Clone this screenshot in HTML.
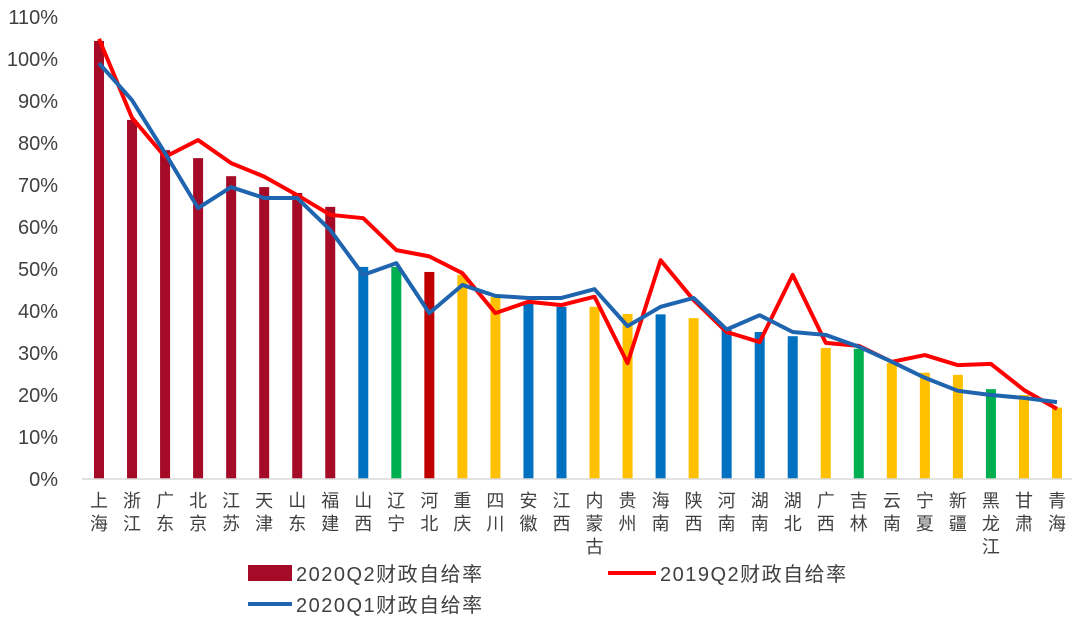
<!DOCTYPE html>
<html><head><meta charset="utf-8"><style>
body{margin:0;background:#fff;}
svg text{font-family:"Liberation Sans","Noto Sans CJK SC",sans-serif;fill:#404040;}
</style></head><body>
<svg id="chart" width="1080" height="621" xmlns="http://www.w3.org/2000/svg">
<g id="yaxis"></g>
<g id="bars"></g>
<g id="lines"></g>
<g id="xaxis"></g>
<g>
<rect x="248" y="565" width="44" height="16" fill="#A50A26"/>
<text x="296" y="581" font-size="20" letter-spacing="1.5">2020Q2财政自给率</text>
<line x1="608" y1="573" x2="656" y2="573" stroke="#FF0000" stroke-width="4"/>
<text x="660" y="581" font-size="20" letter-spacing="1.5">2019Q2财政自给率</text>
<line x1="248" y1="604" x2="292" y2="604" stroke="#1F64AE" stroke-width="4"/>
<text x="296" y="612" font-size="20" letter-spacing="1.5">2020Q1财政自给率</text>
</g>
</svg>
<script>
const categories=["上海","浙江","广东","北京","江苏","天津","山东","福建","山西","辽宁","河北","重庆","四川","安徽","江西","内蒙古","贵州","海南","陕西","河南","湖南","湖北","广西","吉林","云南","宁夏","新疆","黑龙江","甘肃","青海"];
const q2_2020=[104.3,85.5,78.3,76.4,72.1,69.5,68.1,64.8,50.5,50.5,49.3,48.6,43.3,42,41,41,39.3,39.2,38.3,35.5,35,34,31.2,31,27.6,25.3,24.8,21.4,20,17];
const q2_2019=[104.8,86,76.7,80.7,75.2,72,67.6,62.9,62.1,54.5,53,49,39.5,42.2,41.4,43.4,27.6,52.1,42.6,35,32.6,48.6,32.4,31.7,27.9,29.5,27.1,27.4,21.2,16.7];
const q1_2020=[99,90.2,77.6,64.5,69.5,66.9,66.9,59.3,48.6,51.4,39.5,46.2,43.6,43.1,43.1,45.2,36.4,41,43.1,35.6,39,35,34.3,31.5,27.9,24.1,21,20,19.3,18.3];
const barColors=["#A50A26","#A50A26","#A50A26","#A50A26","#A50A26","#A50A26","#A50A26","#A50A26","#0070C0","#00B050","#C00000","#FFC000","#FFC000","#0070C0","#0070C0","#FFC000","#FFC000","#0070C0","#FFC000","#0070C0","#0070C0","#0070C0","#FFC000","#00B050","#FFC000","#FFC000","#FFC000","#00B050","#FFC000","#FFC000"];
const yTicks=[0,10,20,30,40,50,60,70,80,90,100,110];
const NS="http://www.w3.org/2000/svg";
const y0=479,pxPer=4.2,x0=99,step=(1057-99)/(categories.length-1);
const Y=v=>y0-v*pxPer, X=i=>x0+i*step;
function mk(tag,parent,attrs){const e=document.createElementNS(NS,tag);for(const k in attrs)e.setAttribute(k,attrs[k]);document.getElementById(parent).appendChild(e);return e;}
yTicks.forEach(t=>{const e=mk('text','yaxis',{x:58,y:Y(t)+7,'font-size':20,'text-anchor':'end'});e.textContent=t+'%';

});
const ax=mk('line','xaxis',{x1:82,y1:y0,x2:1072,y2:y0,stroke:'#D9D9D9','stroke-width':1.5});


categories.forEach((c,i)=>{
 const r=mk('rect','bars',{x:X(i)-5,y:Y(q2_2020[i]),width:10,height:q2_2020[i]*pxPer,fill:barColors[i]});
 
 
 [...c].forEach((ch,j)=>{const t=mk('text','xaxis',{x:X(i),y:507+j*23,'font-size':18,'text-anchor':'middle'});t.textContent=ch;
 
 });
});
function line(vals,color,name){const p=mk('polyline','lines',{points:vals.map((v,i)=>X(i)+','+Y(v)).join(' '),fill:'none',stroke:color,'stroke-width':4,'stroke-linejoin':'round'});

}
line(q2_2019,'#FF0000','line-2019q2');
line(q1_2020,'#1F64AE','line-2020q1');
</script>
</body></html>
